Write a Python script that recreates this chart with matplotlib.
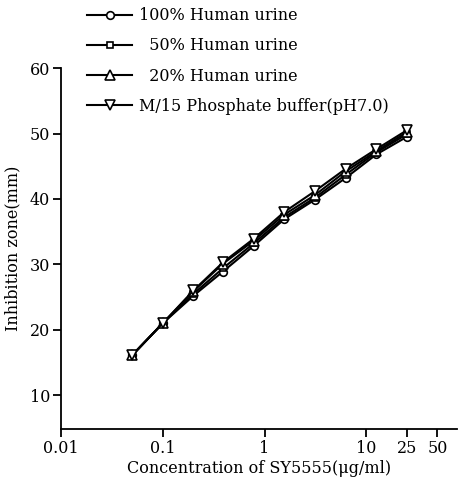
import numpy as np
import matplotlib
matplotlib.use("Agg")
import matplotlib.pyplot as plt

# concentration of SY5555 (ug/ml), two-fold dilutions
conc = [0.05, 0.1, 0.2, 0.39, 0.78, 1.56, 3.13, 6.25, 12.5, 25]

# inhibition zone (mm)
urine_100 = [16.1, 21.0, 25.2, 28.9, 32.8, 36.9, 39.9, 43.2, 46.8, 49.5]
urine_50 = [16.1, 21.0, 25.5, 29.4, 33.2, 37.2, 40.2, 43.7, 47.1, 49.9]
urine_20 = [16.1, 21.0, 25.9, 30.1, 33.6, 37.6, 40.6, 44.2, 47.3, 50.2]
buffer_ph7 = [16.1, 21.0, 26.0, 30.3, 33.9, 38.0, 41.2, 44.6, 47.6, 50.5]

labels = ["100% Human urine", "  50% Human urine", "  20% Human urine",
          "M/15 Phosphate buffer(pH7.0)"]
markers = ["o", "s", "^", "v"]
msizes = [5.5, 4, 6.5, 6.5]

xticks = [0.01, 0.1, 1, 10, 25, 50]
xticklabels = ["0.01", "0.1", "1", "10", "25", "50"]
yticks = [10, 20, 30, 40, 50, 60]

plt.rcParams["font.family"] = ["DejaVu Serif"]
plt.rcParams["font.size"] = 11.5

fig = plt.figure(figsize=(4.66, 4.80), dpi=100)
ax = fig.add_axes([0.131, 0.106, 0.850, 0.752])

series = [urine_100, urine_50, urine_20, buffer_ph7]
for vals, lab, m, ms in zip(series, labels, markers, msizes):
    ax.plot(conc, vals, color="black", lw=1.5, marker=m, ms=ms,
            mfc="white", mec="black", mew=1.2, label=lab)

ax.set_xscale("log")
ax.set_xlim(0.01, 78)
ax.set_ylim(4.8, 60)
ax.set_xticks(xticks)
ax.set_xticklabels(xticklabels)
ax.minorticks_off()
ax.set_yticks(yticks)

for side in ["top", "right"]:
    ax.spines[side].set_visible(False)
for side in ["left", "bottom"]:
    ax.spines[side].set_linewidth(1.3)
ax.tick_params(direction="out", length=6, width=1.3, pad=2)

ax.set_xlabel("Concentration of SY5555(\u03bcg/ml)", labelpad=2)
ax.set_ylabel("Inhibition zone(mm)", labelpad=6)

leg = ax.legend(loc="upper left", bbox_to_anchor=(85 / 466, 475 / 480),
                bbox_transform=fig.transFigure, frameon=False,
                handlelength=2.8, handletextpad=0.4, labelspacing=0.82,
                borderpad=0.15, borderaxespad=0)

fig.savefig("out.png", dpi=100)
